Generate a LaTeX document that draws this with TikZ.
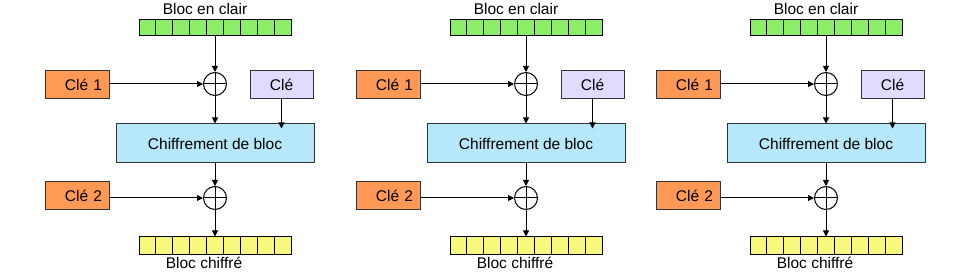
\documentclass[tikz,border=0pt]{standalone}
\usepackage{fontspec}
\setmainfont{Liberation Sans}
\usetikzlibrary{arrows.meta, positioning, calc}

\definecolor{clairgreen}{HTML}{8CEE66}
\definecolor{chiffreyellow}{HTML}{F8F87C}
\definecolor{keyorange}{HTML}{FF9955}
\definecolor{keypurple}{HTML}{E3DAFF}
\definecolor{cipherblue}{HTML}{B6E8FA}

\begin{document}
\begin{tikzpicture}[
	x=1pt, y=-1pt,
	every node/.style={font=\fontsize{15.5}{18}\selectfont},
	bloc/.style={rectangle, draw=black, line width=1pt, minimum width=152pt, minimum height=16pt, inner sep=0pt},
	keybox/.style={rectangle, draw=black!80, line width=1pt, fill=keyorange, text width=50pt, align=right, inner xsep=7pt, minimum height=28pt},
	mainkey/.style={rectangle, draw=black!80, line width=1pt, fill=keypurple, minimum width=63pt, minimum height=28pt},
	cipher/.style={rectangle, draw=black!80, line width=1pt, fill=cipherblue, minimum width=198pt, minimum height=39pt},
	xor/.style={circle, draw=black, line width=1pt, minimum size=23pt, inner sep=0pt,
		path picture={\draw[line width=1pt] (path picture bounding box.north) -- (path picture bounding box.south)
			(path picture bounding box.west) -- (path picture bounding box.east);}},
	arrow/.style={-{Triangle[length=6pt,width=6pt]}, line width=1pt}
]
\useasboundingbox (0,0) rectangle (960,272);

% three copies of the same construction
\foreach \p/\dx in {a/0, b/311, c/611} {
	% blocks
	\node[bloc, fill=clairgreen] (clair\p) at (215+\dx,28) {};
	\node[bloc, fill=chiffreyellow, minimum height=17pt] (chiffre\p) at (215+\dx,245.5) {};
	\foreach \k in {1,...,8} {
		\draw[line width=1pt] ($(clair\p.north west)!\k/9!(clair\p.north east)$) -- ($(clair\p.south west)!\k/9!(clair\p.south east)$);
		\draw[line width=1pt] ($(chiffre\p.north west)!\k/9!(chiffre\p.north east)$) -- ($(chiffre\p.south west)!\k/9!(chiffre\p.south east)$);
	}
	\node (lclair\p) at (205+\dx,9) {Bloc en clair};
	\node (lchiffre\p) at (204+\dx,263) {Bloc chiffré};

	% keys, xor and cipher
	\node[xor] (xorin\p) at (215+\dx,84) {};
	\node[keybox] (cleun\p) at (77+\dx,85) {Clé 1};
	\node[mainkey] (cle\p) at (281.5+\dx,85) {Clé};
	\node[cipher] (chiff\p) at (215+\dx,143.5) {Chiffrement de bloc};
	\node[xor] (xorout\p) at (215+\dx,198) {};
	\node[keybox] (cledeux\p) at (77+\dx,196) {Clé 2};

	% arrows
	\draw[arrow] (clair\p) -- (xorin\p);
	\draw[arrow] (cleun\p.east |- xorin\p) -- (xorin\p);
	\draw[arrow] (xorin\p) -- (chiff\p);
	\draw[arrow, shorten >=-5pt] (cle\p) -- (cle\p |- chiff\p.north);
	\draw[arrow] (chiff\p) -- (xorout\p);
	\draw[arrow] (cledeux\p.east |- xorout\p) -- (xorout\p);
	\draw[arrow] (xorout\p) -- (chiffre\p);
}

\end{tikzpicture}
\end{document}
